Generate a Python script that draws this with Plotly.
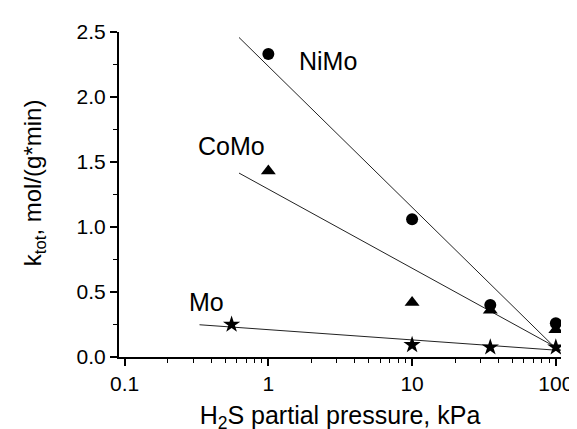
import math
import plotly.graph_objects as go

# Data
pressure = [1, 10, 35, 100]
nimo_k = [2.33, 1.06, 0.40, 0.26]
como_k = [1.43, 0.42, 0.36, 0.21]
mo_pressure = [0.555, 10, 35, 100]
mo_k = [0.25, 0.093, 0.075, 0.075]

# Fit lines (endpoints)
fit_x = [0.625, 108]
nimo_fit = [2.458, 0.03]
como_fit = [1.415, 0.055]
mo_fit_x = [0.332, 108]
mo_fit = [0.248, 0.05]

x_tickvals = [0.1, 1, 10, 100]
x_ticktext = ["0.1", "1", "10", "100"]
y_tickvals = [0.0, 0.5, 1.0, 1.5, 2.0, 2.5]
y_ticktext = ["0.0", "0.5", "1.0", "1.5", "2.0", "2.5"]

FONT = "Liberation Sans, Arial, sans-serif"
line_style = dict(color="#222222", width=1)

fig = go.Figure()
fig.add_trace(go.Scatter(x=fit_x, y=nimo_fit, mode="lines", line=line_style, showlegend=False))
fig.add_trace(go.Scatter(x=fit_x, y=como_fit, mode="lines", line=line_style, showlegend=False))
fig.add_trace(go.Scatter(x=mo_fit_x, y=mo_fit, mode="lines", line=line_style, showlegend=False))

fig.add_trace(go.Scatter(x=pressure, y=nimo_k, mode="markers",
                         marker=dict(symbol="circle", size=12, color="black"), showlegend=False))
fig.add_trace(go.Scatter(x=pressure, y=como_k, mode="markers",
                         marker=dict(symbol="triangle-up", size=13, color="black"), showlegend=False))
fig.add_trace(go.Scatter(x=mo_pressure, y=mo_k, mode="markers",
                         marker=dict(symbol="star", size=13, color="black"), showlegend=False))

labels = [("NiMo", 2.6, 2.278), ("CoMo", 0.552, 1.626), ("Mo", 0.373, 0.42)]
for txt, lx, ly in labels:
    fig.add_annotation(x=math.log10(lx), y=ly, text=txt, showarrow=False,
                       font=dict(family=FONT, size=25, color="black"),
                       xanchor="center", yanchor="middle")

# y-axis title as rotated annotation
fig.add_annotation(xref="paper", yref="paper", x=-0.1925, y=0.5375,
                   text="k<sub>tot</sub>, mol/(g*min)", textangle=-90, showarrow=False,
                   font=dict(family=FONT, size=24, color="black"),
                   xanchor="center", yanchor="middle")

fig.update_layout(
    width=577, height=429,
    margin=dict(l=111, r=14, t=24, b=72),
    paper_bgcolor="white", plot_bgcolor="white",
    font=dict(family=FONT, color="black"),
    xaxis=dict(
        type="log", range=[-1.039, 2.036],
        tickvals=x_tickvals, ticktext=x_ticktext,
        ticks="outside", ticklen=7, tickwidth=1.5, tickcolor="black",
        showline=True, linecolor="black", linewidth=2,
        showgrid=False, zeroline=False,
        tickfont=dict(size=21, family=FONT),
        minor=dict(ticks="outside", ticklen=4, tickwidth=1.2, tickcolor="black",
                   dtick="D1", showgrid=False),
        title=dict(text="H<sub>2</sub>S partial pressure, kPa",
                   font=dict(size=25, family=FONT), standoff=12),
    ),
    yaxis=dict(
        range=[0, 2.5],
        tickvals=y_tickvals, ticktext=y_ticktext,
        ticks="outside", ticklen=7, tickwidth=1.5, tickcolor="black",
        showline=True, linecolor="black", linewidth=2,
        showgrid=False, zeroline=False,
        tickfont=dict(size=21, family=FONT),
        minor=dict(ticks="outside", ticklen=4, tickwidth=1.2, tickcolor="black",
                   dtick=0.25, showgrid=False),
    ),
)

fig.write_html("out.html")
